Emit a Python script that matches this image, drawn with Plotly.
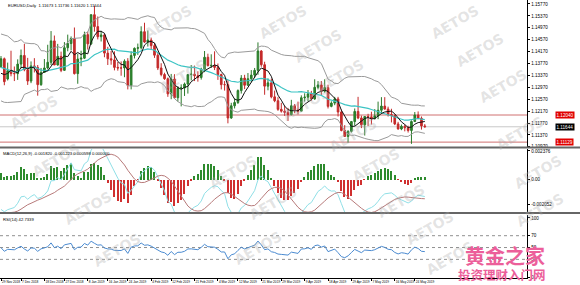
import plotly.graph_objects as go
import pandas as pd

# ---------------- data (EURUSD daily) ----------------
# warm-up history closes (off-screen, needed by the indicators)
hist_close = [1.1686, 1.1665, 1.1673, 1.1779, 1.1748, 1.1748, 1.1766, 1.1738, 1.1640, 1.1605,
              1.1578, 1.1548, 1.1540, 1.1515, 1.1524, 1.1491, 1.1489, 1.1523, 1.1594, 1.1560,
              1.1580, 1.1576, 1.1503, 1.1452, 1.1512, 1.1466, 1.1470, 1.1391, 1.1375, 1.1402,
              1.1370, 1.1344, 1.1313, 1.1408, 1.1388, 1.1406, 1.1431, 1.1427, 1.1360, 1.1333,
              1.1228, 1.1292, 1.1308, 1.1329, 1.1418, 1.1455, 1.1369, 1.1411, 1.1402, 1.1337,
              1.1334, 1.1287, 1.1369]

# visible bars: 29 Nov 2018 .. 29 May 2019 (no bars on 25 Dec and 1 Jan)
opens = [1.1367, 1.1393, 1.1325, 1.1353, 1.1343, 1.1343, 1.1375, 1.1404, 1.1356, 1.1318,
         1.1369, 1.1364, 1.1306, 1.1347, 1.1362, 1.1381, 1.1453, 1.1372, 1.1401,
         1.1354, 1.1430, 1.1444, 1.1461, 1.1343, 1.1392, 1.1395, 1.1474, 1.1443,
         1.1541, 1.1501, 1.1467, 1.1473, 1.1412, 1.1393, 1.1389, 1.1364, 1.1362, 1.1362,
         1.1385, 1.1303, 1.1404, 1.1428, 1.1430, 1.1484, 1.1449, 1.1456, 1.1437, 1.1405,
         1.1362, 1.1340, 1.1326, 1.1275, 1.1325, 1.1262, 1.1295, 1.1295, 1.1308, 1.1340,
         1.1341, 1.1336, 1.1330, 1.1358, 1.1398, 1.1370, 1.1371, 1.1364, 1.1340, 1.1306,
         1.1306, 1.1194, 1.1235, 1.1246, 1.1286, 1.1328, 1.1304, 1.1326, 1.1338, 1.1354,
         1.1419, 1.1373, 1.1301, 1.1312, 1.1265, 1.1252, 1.1223, 1.1217, 1.1213, 1.1205,
         1.1235, 1.1221, 1.1217, 1.1262, 1.1264, 1.1275, 1.1258, 1.1297, 1.1305, 1.1284,
         1.1296, 1.1233, 1.1244, 1.1258, 1.1214, 1.1152, 1.1132, 1.1149, 1.1182, 1.1216,
         1.1194, 1.1171, 1.1199, 1.1198, 1.1192, 1.1201, 1.1220, 1.1234, 1.1224, 1.1206,
         1.1202, 1.1174, 1.1157, 1.1166, 1.1161, 1.1152, 1.1182, 1.1204, 1.1193, 1.11673]
highs = [1.1402, 1.1397, 1.1380, 1.1420, 1.1367, 1.1391, 1.1424, 1.1443, 1.1396, 1.1384,
         1.1395, 1.1372, 1.1362, 1.1392, 1.1440, 1.1486, 1.1471, 1.1443, 1.1417,
         1.1449, 1.1474, 1.1468, 1.1498, 1.1410, 1.1420, 1.1484, 1.1484, 1.1542,
         1.1570, 1.1535, 1.1487, 1.1477, 1.1433, 1.1419, 1.1418, 1.1382, 1.1384, 1.1391,
         1.1395, 1.1418, 1.1431, 1.1444, 1.1502, 1.1514, 1.1488, 1.1464, 1.1446, 1.1412,
         1.1378, 1.1346, 1.1330, 1.1342, 1.1341, 1.1301, 1.1307, 1.1313, 1.1340, 1.1372,
         1.1370, 1.1351, 1.1363, 1.1419, 1.1410, 1.1408, 1.1418, 1.1377, 1.1343, 1.1318,
         1.1321, 1.1245, 1.1259, 1.1290, 1.1338, 1.1339, 1.1345, 1.1355, 1.1362, 1.1448,
         1.1422, 1.1383, 1.1327, 1.1326, 1.1286, 1.1264, 1.1245, 1.1235, 1.1228, 1.1255,
         1.1241, 1.1249, 1.1270, 1.1277, 1.1288, 1.1285, 1.1324, 1.1318, 1.1318, 1.1324,
         1.1306, 1.1250, 1.1265, 1.1265, 1.1222, 1.1170, 1.1153, 1.1184, 1.1226, 1.1265,
         1.1202, 1.1200, 1.1208, 1.1215, 1.1224, 1.1249, 1.1264, 1.1264, 1.1232, 1.1225,
         1.1206, 1.1181, 1.1172, 1.1172, 1.1168, 1.1186, 1.1214, 1.1216, 1.1199, 1.11736]
lows = [1.1362, 1.1304, 1.1320, 1.1334, 1.1318, 1.1322, 1.1361, 1.1351, 1.1305, 1.1311,
        1.1347, 1.1269, 1.1302, 1.1347, 1.1357, 1.1372, 1.1372, 1.1370, 1.1348,
        1.1353, 1.1418, 1.1421, 1.1340, 1.1309, 1.1368, 1.1392, 1.1424, 1.1439,
        1.1484, 1.1458, 1.1451, 1.1398, 1.1372, 1.1373, 1.1354, 1.1353, 1.1336, 1.1331,
        1.1290, 1.1290, 1.1394, 1.1406, 1.1424, 1.1446, 1.1434, 1.1424, 1.1396, 1.1355,
        1.1334, 1.1322, 1.1265, 1.1257, 1.1259, 1.1249, 1.1233, 1.1268, 1.1276, 1.1320,
        1.1318, 1.1316, 1.1323, 1.1348, 1.1367, 1.1362, 1.1355, 1.1322, 1.1290, 1.1286,
        1.1176, 1.1191, 1.1226, 1.1241, 1.1276, 1.1291, 1.1302, 1.1314, 1.1328, 1.1339,
        1.1366, 1.1272, 1.1287, 1.1260, 1.1247, 1.1218, 1.1212, 1.1201, 1.1184, 1.1203,
        1.1210, 1.1206, 1.1217, 1.1249, 1.1250, 1.1252, 1.1255, 1.1290, 1.1271, 1.1279,
        1.1226, 1.1230, 1.1237, 1.1199, 1.1149, 1.1131, 1.1111, 1.1145, 1.1168, 1.1190,
        1.1160, 1.1135, 1.1167, 1.1172, 1.1189, 1.1190, 1.1207, 1.1222, 1.1199, 1.1179,
        1.1170, 1.1155, 1.1153, 1.1149, 1.1145, 1.1107, 1.1181, 1.1190, 1.1155, 1.11620]
closes = [1.1393, 1.1316, 1.1353, 1.1343, 1.1343, 1.1375, 1.1404, 1.1356, 1.1318, 1.1369,
          1.1364, 1.1306, 1.1347, 1.1362, 1.1381, 1.1453, 1.1372, 1.1401, 1.1354,
          1.1430, 1.1444, 1.1461, 1.1343, 1.1392, 1.1395, 1.1474, 1.1443, 1.1541,
          1.1501, 1.1467, 1.1473, 1.1412, 1.1393, 1.1389, 1.1364, 1.1362, 1.1362, 1.1385,
          1.1303, 1.1404, 1.1428, 1.1430, 1.1484, 1.1449, 1.1456, 1.1437, 1.1405, 1.1362,
          1.1340, 1.1326, 1.1275, 1.1325, 1.1262, 1.1295, 1.1295, 1.1308, 1.1340, 1.1341,
          1.1336, 1.1330, 1.1358, 1.1398, 1.1370, 1.1371, 1.1364, 1.1340, 1.1306, 1.1306,
          1.1194, 1.1235, 1.1246, 1.1286, 1.1328, 1.1304, 1.1326, 1.1338, 1.1354, 1.1419,
          1.1373, 1.1301, 1.1312, 1.1265, 1.1252, 1.1223, 1.1217, 1.1213, 1.1205, 1.1235,
          1.1221, 1.1217, 1.1262, 1.1264, 1.1275, 1.1258, 1.1297, 1.1305, 1.1284, 1.1296,
          1.1233, 1.1244, 1.1258, 1.1214, 1.1152, 1.1132, 1.1149, 1.1182, 1.1216, 1.1194,
          1.1171, 1.1199, 1.1198, 1.1192, 1.1201, 1.1220, 1.1234, 1.1224, 1.1206, 1.1202,
          1.1174, 1.1157, 1.1166, 1.1161, 1.1152, 1.1182, 1.1204, 1.1193, 1.11673, 1.11644]

first_date = "2018-11-29"
no_trading_days = ["2018-12-25", "2019-01-01"]
date_labels = ["29 Nov 2018", "7 Dec 2018", "18 Dec 2018", "27 Dec 2018", "8 Jan 2019",
               "16 Jan 2019", "24 Jan 2019", "4 Feb 2019", "12 Feb 2019", "21 Feb 2019",
               "4 Mar 2019", "12 Mar 2019", "21 Mar 2019", "29 Mar 2019", "9 Apr 2019",
               "18 Apr 2019", "29 Apr 2019", "7 May 2019", "16 May 2019", "24 May 2019"]
price_ticks = [1.10970, 1.11370, 1.11770, 1.12170, 1.12570, 1.12970, 1.13370,
               1.13770, 1.14170, 1.14570, 1.14970, 1.15370, 1.15770]
level_lines = [1.12040, 1.11129]
last_price = 1.11644
macd_ticks = [0.002376, 0.0, -0.002052]
macd_tick_text = ["0.002376", "0.00", "-0.002052"]
rsi_ticks = [100, 70, 50, 30, 0]
rsi_levels = [70, 50, 30]

header_text = "EURUSD,Daily  1.11673 1.11736 1.11620 1.11644"
macd_text = "MACD(12,26,9) -0.001820 -0.001223 0.000598 0.000000"
rsi_text = "RSI(14) 42.7339"

# ---------------- indicators ----------------
n = len(closes)
nh = len(hist_close)
c = pd.Series(hist_close + closes)
sma20 = c.rolling(20).mean()
sd20 = c.rolling(20).std(ddof=0)
bb_up = (sma20 + 2 * sd20).iloc[nh:].tolist()
bb_dn = (sma20 - 2 * sd20).iloc[nh:].tolist()
ma_mid = sma20.iloc[nh:].tolist()
ma_fast = c.rolling(5).mean().iloc[nh:].tolist()
macd = c.ewm(span=12, adjust=False).mean() - c.ewm(span=26, adjust=False).mean()
sig = macd.rolling(9).mean()
osma = macd - sig
macd_v = macd.iloc[nh:].tolist()
sig_v = sig.iloc[nh:].tolist()
osma_v = osma.iloc[nh:].tolist()
d = c.diff()
g = d.clip(lower=0).ewm(alpha=1 / 14, adjust=False).mean()
l = (-d.clip(upper=0)).ewm(alpha=1 / 14, adjust=False).mean()
rsi_v = (100 - 100 / (1 + g / l)).iloc[nh:].tolist()

bar_dates = pd.bdate_range(first_date, periods=n, freq="C", holidays=no_trading_days)
xs = list(range(n))
date_idx = [int(bar_dates.get_loc(pd.Timestamp(s))) for s in date_labels]

# ---------------- figure ----------------
W, H = 580, 285
PW = 553.0
PR = PW / W
PH = 278.0
FONT = "Liberation Sans"
xr = [-0.3, 157.7]

fig = go.Figure()
fig.add_trace(go.Candlestick(
    x=xs, open=opens, high=highs, low=lows, close=closes, xaxis="x", yaxis="y",
    increasing=dict(line=dict(color="#2a7a2a", width=1), fillcolor="#2a8a2a"),
    decreasing=dict(line=dict(color="#c42a2a", width=1), fillcolor="#c42a2a"),
    whiskerwidth=0, showlegend=False, hoverinfo="skip"))
for ser, col, w in [(bb_up, "#9a9a9a", 1), (bb_dn, "#9a9a9a", 1),
                    (ma_mid, "#3cc4c4", 1.2), (ma_fast, "#111111", 1)]:
    fig.add_trace(go.Scatter(x=xs, y=ser, mode="lines", line=dict(color=col, width=w),
                             xaxis="x", yaxis="y", showlegend=False, hoverinfo="skip"))

fig.add_trace(go.Bar(x=xs, y=osma_v, width=0.45, xaxis="x2", yaxis="y2",
                     marker=dict(color=["#2e8b2e" if v >= 0 else "#d03030" for v in osma_v],
                                 line=dict(width=0)),
                     showlegend=False, hoverinfo="skip"))
fig.add_trace(go.Scatter(x=xs, y=macd_v, mode="lines", line=dict(color="#8fdfe6", width=1),
                         xaxis="x2", yaxis="y2", showlegend=False, hoverinfo="skip"))
fig.add_trace(go.Scatter(x=xs, y=sig_v, mode="lines", line=dict(color="#b77a7a", width=1),
                         xaxis="x2", yaxis="y2", showlegend=False, hoverinfo="skip"))

fig.add_trace(go.Scatter(x=xs, y=rsi_v, mode="lines", line=dict(color="#4a8ad0", width=1),
                         xaxis="x3", yaxis="y3", showlegend=False, hoverinfo="skip"))


def dom(top_px, bot_px):
    return [1 - bot_px / PH, 1 - top_px / PH]


tick_font = dict(family=FONT, size=4.6, color="#000")
common_y = dict(side="right", showgrid=False, zeroline=False, showline=True,
                linecolor="#000", linewidth=1, ticks="outside", ticklen=2,
                tickcolor="#000", tickfont=tick_font, fixedrange=True)
common_x = dict(domain=[0, PR], range=xr, showgrid=False, zeroline=False, fixedrange=True)

fig.update_layout(
    width=W, height=H, margin=dict(l=0, r=W - PW, t=0, b=H - PH),
    paper_bgcolor="white", plot_bgcolor="white", bargap=0,
    xaxis=dict(**common_x, anchor="y", showticklabels=False, rangeslider=dict(visible=False)),
    xaxis2=dict(**common_x, anchor="y2", matches="x", showticklabels=False),
    xaxis3=dict(**common_x, anchor="y3", matches="x", tickmode="array", tickvals=date_idx,
                ticktext=date_labels, ticks="outside", ticklen=2, tickcolor="#000",
                tickangle=0, ticklabelposition="outside right", showline=True,
                linecolor="#000", linewidth=1,
                tickfont=dict(family=FONT, size=3.2, color="#000")),
    yaxis=dict(**common_y, domain=dom(0, 147), range=[1.10965, 1.15904], anchor="x",
               tickmode="array", tickvals=price_ticks,
               ticktext=["%.5f" % v for v in price_ticks]),
    yaxis2=dict(**common_y, domain=dom(149, 212), range=[-0.00270, 0.00254], anchor="x2",
                tickmode="array", tickvals=macd_ticks, ticktext=macd_tick_text),
    yaxis3=dict(**common_y, domain=dom(215, 278), range=[-1.5, 105], anchor="x3",
                tickmode="array", tickvals=rsi_ticks, ticktext=[str(v) for v in rsi_ticks]),
)

shapes = []
for lv in level_lines:
    shapes.append(dict(type="line", xref="x", yref="y", x0=xr[0], x1=xr[1], y0=lv, y1=lv,
                       line=dict(color="#d07070", width=1), layer="below"))
shapes.append(dict(type="line", xref="x", yref="y", x0=xr[0], x1=xr[1], y0=last_price,
                   y1=last_price, line=dict(color="#c8c8c8", width=1), layer="below"))
for lv in rsi_levels:
    shapes.append(dict(type="line", xref="x3", yref="y3", x0=xr[0], x1=xr[1], y0=lv, y1=lv,
                       line=dict(color="#909090", width=1, dash="dot"), layer="below"))
for ypx in [147.5, 213.0]:
    yp = 1 - ypx / PH
    shapes.append(dict(type="line", xref="paper", yref="paper", x0=-0.01, x1=W / PW + 0.01,
                       y0=yp, y1=yp, line=dict(color="#666", width=2)))
fig.update_layout(shapes=shapes)

ann = []
# "AETOS" watermarks (pixel centres)
wm = [(168, 22), (283, 22), (318, 46), (455, 22), (480, 50), (340, 76), (183, 76),
      (503, 86), (34, 112), (306, 104), (353, 135), (520, 133), (56, 160), (233, 172),
      (376, 165), (538, 172), (88, 208), (273, 203), (401, 201), (540, 210), (117, 250),
      (258, 248), (430, 228), (450, 258)]
for (px, py) in wm:
    ann.append(dict(xref="paper", yref="paper", x=px / PW, y=1 - py / PH, text="<b>AETOS</b>",
                    xanchor="center", yanchor="middle", showarrow=False, textangle=-30,
                    font=dict(family="DejaVu Sans", size=14, color="rgba(170,170,170,0.32)")))
ann.append(dict(xref="paper", yref="paper", x=6 / PW, y=1 - 1 / PH, xanchor="left",
                yanchor="top", text=header_text, showarrow=False,
                font=dict(family=FONT, size=4.2, color="#000")))
ann.append(dict(xref="paper", yref="paper", x=1 / PW, y=1 - 149 / PH, xanchor="left",
                yanchor="top", text=macd_text, showarrow=False,
                font=dict(family=FONT, size=4.2, color="#000")))
ann.append(dict(xref="paper", yref="paper", x=1 / PW, y=1 - 215 / PH, xanchor="left",
                yanchor="top", text=rsi_text, showarrow=False,
                font=dict(family=FONT, size=4.2, color="#000")))
for lv in level_lines:
    ann.append(dict(xref="paper", yref="y", x=1.004, y=lv, xanchor="left", yanchor="middle",
                    text="%.5f" % lv, showarrow=False, bgcolor="#e00000", borderpad=0.5,
                    font=dict(family=FONT, size=4.6, color="#fff")))
ann.append(dict(xref="paper", yref="y", x=1.004, y=last_price, xanchor="left",
                yanchor="middle", text="%.5f" % last_price, showarrow=False, bgcolor="#000",
                borderpad=0.5, font=dict(family=FONT, size=4.6, color="#fff")))
ann.append(dict(xref="paper", yref="paper", x=505 / PW, y=1 - 255 / PH, text="<b>黄金之家</b>",
                xanchor="center", yanchor="middle", showarrow=False,
                font=dict(family="Noto Sans CJK SC", size=20, color="#ec5f9a")))
ann.append(dict(xref="paper", yref="paper", x=502 / PW, y=1 - 274 / PH,
                text="<b>投资理财入门网</b>", xanchor="center", yanchor="middle",
                showarrow=False,
                font=dict(family="Noto Sans CJK SC", size=12.5, color="#ec5f9a")))
fig.update_layout(annotations=ann)

fig.write_html("out.html")
